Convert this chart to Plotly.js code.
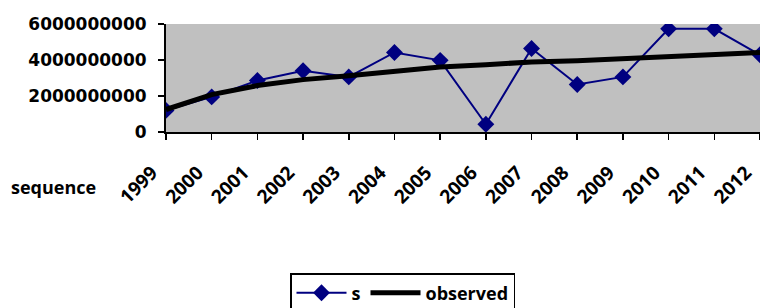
<!DOCTYPE html>
<html>
<head>
<meta charset="utf-8">
<script src="https://cdn.plot.ly/plotly-3.0.1.min.js"></script>
<style>html,body{margin:0;padding:0;background:#fff;}#chart{width:760px;height:308px;}</style>
</head>
<body>
<div id="chart"></div>
<script>
const years = [1999, 2000, 2001, 2002, 2003, 2004, 2005, 2006, 2007, 2008, 2009, 2010, 2011, 2012];
const sValues = [1.2e9, 1.95e9, 2.86e9, 3.4e9, 3.06e9, 4.42e9, 3.98e9, 0.43e9, 4.64e9, 2.64e9, 3.06e9, 5.73e9, 5.73e9, 4.29e9];
const observedValues = [1.25e9, 2.08e9, 2.58e9, 2.91e9, 3.13e9, 3.4e9, 3.61e9, 3.74e9, 3.89e9, 3.96e9, 4.09e9, 4.18e9, 4.29e9, 4.42e9];
const yTicks = [0, 2e9, 4e9, 6e9];
const seriesNames = ['s', 'observed'];
const xTitle = 'sequence';

const traces = [
  {
    x: years, y: sValues, name: seriesNames[0], type: 'scatter', mode: 'lines+markers',
    line: {color: '#000080', width: 2},
    marker: {symbol: 'diamond', size: 13, color: '#000080'}
  },
  {
    x: years, y: observedValues, name: seriesNames[1], type: 'scatter', mode: 'lines',
    line: {color: '#000000', width: 5}
  }
];

const layout = {
  width: 760, height: 308,
  margin: {l: 166, r: 0, t: 24, b: 176},
  paper_bgcolor: '#ffffff',
  plot_bgcolor: '#c0c0c0',
  showlegend: true,
  font: {family: 'Open Sans, sans-serif', color: '#000', size: 16},
  xaxis: {
    range: [1999, 2012],
    tickvals: years,
    ticktext: years.map(String),
    tickangle: -45,
    ticks: 'outside', ticklen: 6, tickwidth: 1.5, tickcolor: '#000',
    showline: true, linecolor: '#000', linewidth: 2,
    showgrid: false, zeroline: false,
    tickfont: {family: 'Open Sans, sans-serif', size: 19, color: '#000', weight: 'bold'},
    ticklabelstandoff: 14,
    ticklabelshift: -14
  },
  yaxis: {
    range: [0, 6e9],
    tickvals: yTicks,
    tickformat: 'd',
    ticks: 'outside', ticklen: 6, tickwidth: 1.5, tickcolor: '#000',
    showline: true, linecolor: '#000', linewidth: 2,
    showgrid: false, zeroline: false,
    tickfont: {family: 'DejaVu Sans, sans-serif', size: 17, color: '#000', weight: 'bold'},
    ticklabelstandoff: 8
  },
  annotations: [{
    text: xTitle, xref: 'paper', yref: 'paper', x: -0.265, y: -0.51,
    xanchor: 'left', yanchor: 'middle', showarrow: false,
    font: {family: 'Open Sans, sans-serif', size: 18, color: '#000', weight: 'bold'}
  }],
  legend: {
    orientation: 'h',
    xref: 'container', yref: 'container',
    x: 290/760, xanchor: 'left',
    y: 1 - 273/308, yanchor: 'top',
    bordercolor: '#000', borderwidth: 1.5, bgcolor: '#fff',
    font: {family: 'Open Sans, sans-serif', size: 18, color: '#000', weight: 'bold'},
    itemwidth: 50,
    traceorder: 'normal'
  }
};

Plotly.newPlot('chart', traces, layout, {displayModeBar: false, staticPlot: true});
</script>
</body>
</html>
